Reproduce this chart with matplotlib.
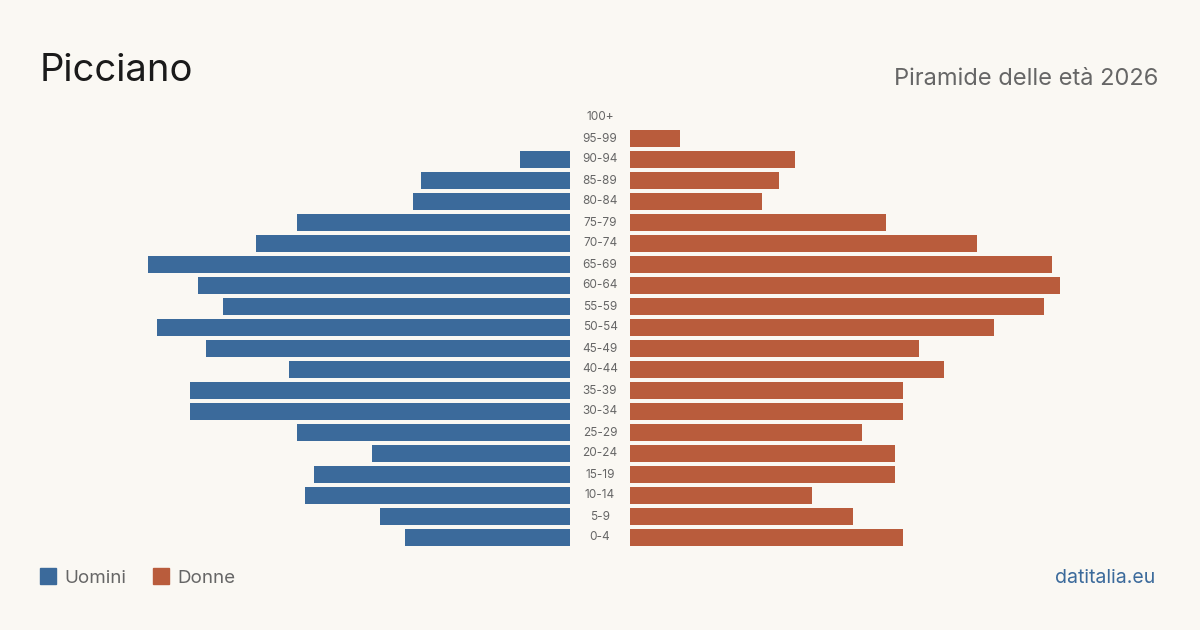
import matplotlib.pyplot as plt

ages = ["0-4", "5-9", "10-14", "15-19", "20-24", "25-29", "30-34", "35-39",
        "40-44", "45-49", "50-54", "55-59", "60-64", "65-69", "70-74",
        "75-79", "80-84", "85-89", "90-94", "95-99", "100+"]
uomini = [20, 23, 32, 31, 24, 33, 46, 46, 34, 44, 50, 42, 45, 51, 38, 33, 19, 18, 6, 0, 0]
donne = [33, 27, 22, 32, 32, 28, 33, 33, 38, 35, 44, 50, 52, 51, 42, 31, 16, 18, 20, 6, 0]

bg = "#faf8f3"
blue = "#3b6a9b"
orange = "#b95c3c"
grey = "#666666"

plt.rcParams['font.family'] = ['Inter', 'DejaVu Sans']

fig = plt.figure(figsize=(12, 6.3), dpi=100, facecolor=bg)
ax = fig.add_axes([0, 0, 1, 1])
ax.set_facecolor(bg)

px = 8.27           # pixels per person
gap = 30 / px       # half gap between the two sides
ax.set_xlim(-600 / px, 600 / px)
ax.set_ylim(-92.5 / 21, 537.5 / 21)

y = list(range(len(ages)))
ax.barh(y, [-v for v in uomini], left=-gap, height=17 / 21, color=blue)
ax.barh(y, donne, left=gap, height=17 / 21, color=orange)
for i, a in enumerate(ages):
    ax.text(0, i, a, ha="center", va="center", fontsize=8.5, color=grey)
ax.axis("off")

fig.text(40 / 1200, 1 - 81 / 630, "Picciano", fontsize=27.5, color="#1a1a1a", va="baseline")
fig.text(1158 / 1200, 1 - 85 / 630, "Piramide delle età 2026", fontsize=17,
         color=grey, ha="right", va="baseline")

fig.patches.append(plt.Rectangle((40 / 1200, 1 - 584 / 630), 16 / 1200, 16 / 630,
                                 transform=fig.transFigure, color=blue))
fig.text(64 / 1200, 1 - 583 / 630, "Uomini", fontsize=13.5, color=grey, va="baseline")
fig.patches.append(plt.Rectangle((153 / 1200, 1 - 584 / 630), 16 / 1200, 16 / 630,
                                 transform=fig.transFigure, color=orange))
fig.text(177 / 1200, 1 - 583 / 630, "Donne", fontsize=13.5, color=grey, va="baseline")
fig.text(1155 / 1200, 1 - 583 / 630, "datitalia.eu", fontsize=14, color=blue,
         ha="right", va="baseline")

fig.savefig("out.png", dpi=100, facecolor=bg)
